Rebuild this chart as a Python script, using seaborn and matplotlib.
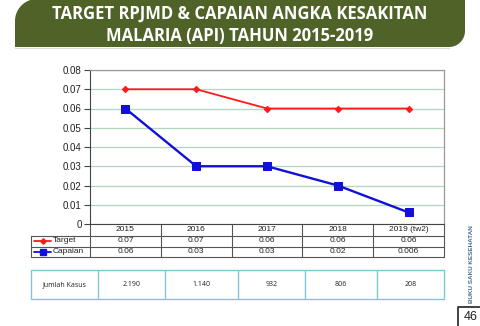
import numpy as np
import pandas as pd
import seaborn as sns
import matplotlib.pyplot as plt
import matplotlib.transforms as mtrans
from matplotlib.path import Path
from matplotlib.patches import PathPatch, Rectangle

# ---- data ----
years = ["2015", "2016", "2017", "2018", "2019 (tw2)"]
target = [0.07, 0.07, 0.06, 0.06, 0.06]
capaian = [0.06, 0.03, 0.03, 0.02, 0.006]
target_labels = ["0.07", "0.07", "0.06", "0.06", "0.06"]
capaian_labels = ["0.06", "0.03", "0.03", "0.02", "0.006"]
kasus_labels = ["2.190", "1.140", "932", "806", "208"]
yticks = [0, 0.01, 0.02, 0.03, 0.04, 0.05, 0.06, 0.07, 0.08]
ytick_labels = ["0", "0.01", "0.02", "0.03", "0.04", "0.05", "0.06", "0.07", "0.08"]
title_lines = ["TARGET RPJMD & CAPAIAN ANGKA KESAKITAN",
               "MALARIA (API) TAHUN 2015-2019"]

RED = "#ff1a1a"
BLUE = "#1010d8"
BANNER = "#4f6228"

W, H = 480, 326
sns.set_theme(style="white")
plt.rcParams["font.family"] = ["Liberation Sans", "DejaVu Sans"]

fig = plt.figure(figsize=(W / 100, H / 100), dpi=100)
fig.patch.set_facecolor("white")


def fx(px):
    return px / W


def fy(py):
    return 1 - py / H


# full-page layer in pixel units (y grows downward)
page = fig.add_axes([0, 0, 1, 1], zorder=0)
page.set_xlim(0, W)
page.set_ylim(H, 0)
page.axis("off")

# ---- title banner ----
L, R, T, B = 15, 465, -1, 47
r1, r2 = 22, 16
pts = []
for a in np.linspace(np.pi, 1.5 * np.pi, 20):  # top-left rounded corner
    pts.append((L + r1 + r1 * np.cos(a), T + r1 + r1 * np.sin(a)))
pts.append((R, T))
for a in np.linspace(0, 0.5 * np.pi, 20):  # bottom-right rounded corner
    pts.append((R - r2 + r2 * np.cos(a), B - r2 + r2 * np.sin(a)))
pts.append((L, B))
pts.append(pts[0])
codes = [Path.MOVETO] + [Path.LINETO] * (len(pts) - 2) + [Path.CLOSEPOLY]
page.add_patch(PathPatch(Path(pts, codes), facecolor=BANNER, edgecolor="none"))
page.plot([L, R - r2], [B + 1, B + 1], color="#d9d9d9", lw=0.8)
for i, line in enumerate(title_lines):
    page.text(240, 14 + 22.5 * i, line, color="white", fontsize=12,
              fontweight="bold", family=["Open Sans", "DejaVu Sans"],
              ha="center", va="center")

# ---- chart ----
ax = fig.add_axes([fx(90), fy(224), (444 - 90) / W, (224 - 70) / H], zorder=2)
sns.lineplot(x=years, y=target, ax=ax, sort=False, color=RED, lw=1.3,
             marker="D", markersize=3.2, markeredgecolor=RED)
sns.lineplot(x=years, y=capaian, ax=ax, sort=False, color=BLUE, lw=1.7,
             marker="s", markersize=5.5, markeredgecolor=BLUE)
ax.set_xlim(-0.5, len(years) - 0.5)
ax.set_ylim(0, 0.08)
ax.set_yticks(yticks)
ax.set_yticklabels(ytick_labels)
ax.set_xticks([])
ax.set_xlabel("")
ax.set_ylabel("")
ax.set_axisbelow(True)
ax.yaxis.grid(True, color="#b3d6bf", lw=0.9)
ax.tick_params(axis="y", left=True, length=4, width=0.8, color="#444",
               labelsize=7, pad=2, labelcolor="#222")
for side in ["top", "right"]:
    ax.spines[side].set_color("#9a9a9a")
    ax.spines[side].set_linewidth(0.9)
ax.spines["left"].set_color("#444")
ax.spines["left"].set_linewidth(0.8)
ax.spines["bottom"].set_color("#444")
ax.spines["bottom"].set_linewidth(0.8)

# ---- data table under the chart (x in category units, y in page pixels) ----
tr = mtrans.blended_transform_factory(ax.transData, page.transData)
n = len(years)
row_top, row1, row2, row_bot = 224, 235.5, 246.5, 257
line_kw = dict(color="#555", lw=0.8, clip_on=False, transform=tr)
for xv in np.arange(-0.5, n, 1.0):
    ax.plot([xv, xv], [row_top, row_bot], **line_kw)
for yv in (row1, row2, row_bot):
    ax.plot([-0.5, n - 0.5], [yv, yv], **line_kw)
    page.plot([31, 90], [yv, yv], color="#555", lw=0.8)
page.plot([31, 31], [row1, row_bot], color="#555", lw=0.8)

txt_kw = dict(fontsize=6, color="#222", ha="center", va="center",
              transform=tr, clip_on=False)
for i in range(n):
    ax.text(i, (row_top + row1) / 2, years[i], **txt_kw)
    ax.text(i, (row1 + row2) / 2, target_labels[i], **txt_kw)
    ax.text(i, (row2 + row_bot) / 2, capaian_labels[i], **txt_kw)

# legend keys in the table
for yc, col, mk, ms, name in [((row1 + row2) / 2, RED, "D", 2.8, "Target"),
                              ((row2 + row_bot) / 2, BLUE, "s", 3.8, "Capaian")]:
    page.plot([34, 51], [yc, yc], color=col, lw=1.3)
    page.plot([42.5], [yc], marker=mk, markersize=ms, color=col)
    page.text(53, yc, name, fontsize=6, color="#222", ha="left", va="center")

# ---- case count table ----
kx = [31, 98, 164.5, 238, 304.5, 377, 444]
ky0, ky1 = 270, 299
kcol = "#80c6d3"
page.add_patch(Rectangle((kx[0], ky0), kx[-1] - kx[0], ky1 - ky0,
                         facecolor="white", edgecolor=kcol, lw=1.0))
for xv in kx[1:-1]:
    page.plot([xv, xv], [ky0, ky1], color=kcol, lw=1.0)
cells = ["Jumlah Kasus"] + kasus_labels
for i, label in enumerate(cells):
    page.text((kx[i] + kx[i + 1]) / 2, (ky0 + ky1) / 2 + 0.5, label,
              fontsize=5, color="#222", ha="center", va="center",
              family=["Open Sans", "DejaVu Sans"])

# ---- side caption and page number ----
page.text(471.5, 264, "BUKU SAKU KESEHATAN", rotation=90, fontsize=4.6,
          color="#4a6b96", fontweight="bold", ha="center", va="center")
page.plot([457.5, 457.5, 480], [326, 306.5, 306.5], color="#333", lw=1.3)
page.text(470.5, 317.5, "46", fontsize=9, color="#222", ha="center", va="center")

fig.savefig("out.png", dpi=100, facecolor="white")
